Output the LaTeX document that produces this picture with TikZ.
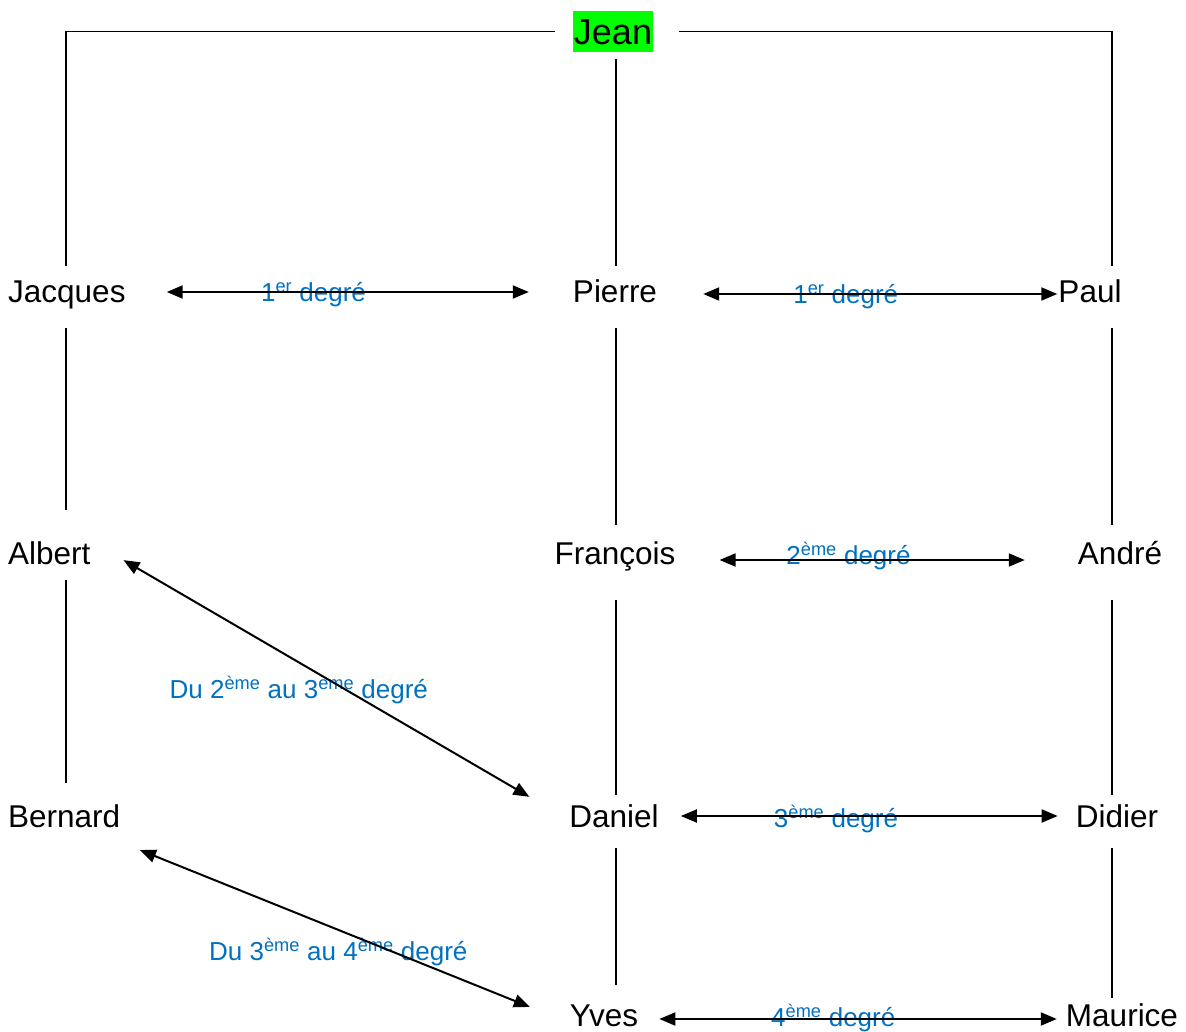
\documentclass[tikz,border=0pt]{standalone}
\usepackage{fontspec}
\setmainfont{Liberation Sans}
\usetikzlibrary{arrows.meta}
\definecolor{wordblue}{RGB}{0,112,192}
\definecolor{jeangreen}{RGB}{0,255,0}
\begin{document}
\begin{tikzpicture}
      [x=1pt, y=-1pt,
      person/.style={font=\fontsize{31.5}{36}\selectfont, text height=22pt, text depth=0pt, inner xsep=0pt, inner ysep=15pt},
      lab/.style={font=\fontsize{26}{30}\selectfont, text=wordblue, text height=19pt, text depth=0pt, inner sep=0pt},
      arr/.style={<->, >={Triangle[length=16pt,width=13pt]}, line width=2pt},
      link/.style={line width=1.5pt},
      ]
      \useasboundingbox (0,0) rectangle (1186,1032);
      \coordinate (lcol) at (66,0);
      \coordinate (mcol) at (616,0);
      \coordinate (rcol) at (1112,0);
      \node [font=\fontsize{36}{40}\selectfont, fill=jeangreen, text height=33pt, text depth=6pt,
        inner xsep=1pt, inner ysep=1pt, anchor=base] (Jean) at (613,45) {Jean};
      \node [person, anchor=west] (Jacques) at (8,292) {Jacques};
      \node [person] (Pierre) at (615,292) {Pierre};
      \node [person] (Paul) at (1090,292) {Paul};
      \node [person, anchor=west] (Albert) at (8,553) {Albert};
      \node [person] (Francois) at (615,553) {François};
      \node [person] (Andre) at (1120,553) {André};
      \node [person, anchor=west] (Bernard) at (8,816) {Bernard};
      \node [person] (Daniel) at (614,816) {Daniel};
      \node [person] (Didier) at (1117,816) {Didier};
      \node [person] (Yves) at (604,1015) {Yves};
      \node [person] (Maurice) at (1122,1015) {Maurice};
      % lignes de parenté
      \draw [link, shorten <=18pt] (Jean.west) -| (Jacques.north -| lcol);
      \draw [link, shorten <=7pt] (Jean.south -| mcol) -- (Pierre.north -| mcol);
      \draw [link, shorten <=26pt] (Jean.east) -| (Paul.north -| rcol);
      \foreach \a/\b/\c/\s/\e in {Jacques/Albert/lcol/10/17, Albert/Bernard/lcol/1/7,
        Pierre/Francois/mcol/10/2, Francois/Daniel/mcol/21/-5, Daniel/Yves/mcol/6/4,
        Paul/Andre/rcol/10/2, Andre/Didier/rcol/21/-5, Didier/Maurice/rcol/6/-9}
        \draw [link, shorten <=\s pt, shorten >=\e pt] (\a.south -| \c) -- (\b.north -| \c);
      % degrés
      \draw [arr, shorten <=41pt, shorten >=44pt] (Jacques.east) -- (Pierre.west)
        node [lab, behind path, pos=.42] {1\textsuperscript{er} degré};
      \draw [arr, shorten <=46pt, shorten >=1pt] ([yshift=-2pt]Pierre.east) -- ([yshift=-2pt]Paul.west)
        node [lab, behind path, pos=.47] {1\textsuperscript{er} degré};
      \draw [arr, shorten <=44pt, shorten >=53pt] ([yshift=-7pt]Francois.east) -- ([yshift=-7pt]Andre.west)
        node [lab, behind path, pos=.43, yshift=5pt] {2\textsuperscript{ème} degré};
      \draw [arr, shorten <=22pt, shorten >=18pt] (Daniel.east) -- (Didier.west)
        node [lab, behind path, pos=.425, yshift=-2pt] {3\textsuperscript{ème} degré};
      \draw [arr, shorten <=21pt, shorten >=9pt] ([yshift=-4pt]Yves.east) -- ([yshift=-4pt]Maurice.west)
        node [lab, behind path, pos=.456, yshift=2pt] {4\textsuperscript{ème} degré};
      \draw [arr, shorten <=38pt, shorten >=46pt] ([yshift=12pt]Albert.east) -- ([yshift=-4pt]Daniel.west)
        node [lab, behind path, pos=.435, yshift=-27pt] {Du 2\textsuperscript{ème} au 3\textsuperscript{ème} degré};
      \draw [arr, shorten <=21pt, shorten >=43pt] (Bernard.south east) -- ([yshift=-8pt]Yves.west)
        node [lab, behind path, pos=.485, yshift=-21pt] {Du 3\textsuperscript{ème} au 4\textsuperscript{ème} degré};
      \end{tikzpicture}
\end{document}
